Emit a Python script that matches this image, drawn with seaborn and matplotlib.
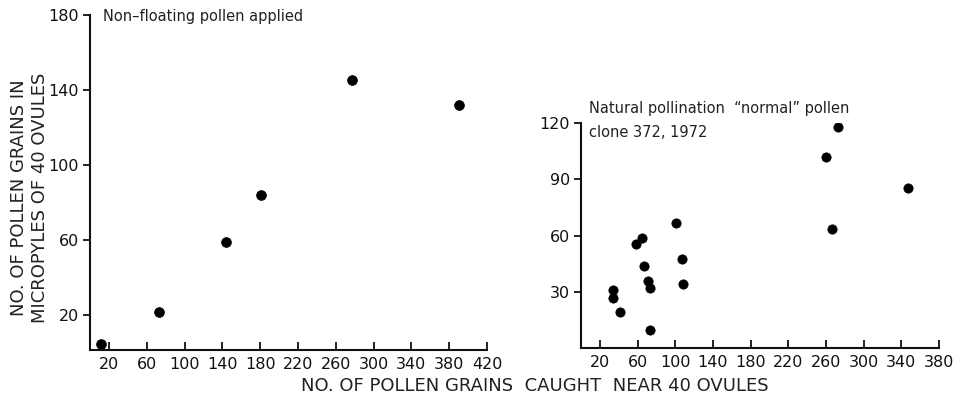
import matplotlib
matplotlib.use("Agg")
import matplotlib.pyplot as plt
import seaborn as sns
import pandas as pd

# Left panel: non-floating pollen applied
left_x = [12, 73, 144, 181, 277, 390]
left_y = [4.5, 21.8, 59.1, 84.2, 145.2, 131.8]

# Right panel: natural pollination, "normal" pollen, clone 372, 1972
right_x = [273, 260, 347, 101, 266, 65, 58, 67, 107, 71, 73, 108, 34, 34, 41, 73]
right_y = [117.7, 102, 85.4, 66.9, 63.6, 58.9, 55.4, 43.7, 47.6, 36, 32.1, 34.4, 30.7, 26.8, 19.3, 9.7]

left_xticks = [20, 60, 100, 140, 180, 220, 260, 300, 340, 380, 420]
left_yticks = [20, 60, 100, 140, 180]
right_xticks = [20, 60, 100, 140, 180, 220, 260, 300, 340, 380]
right_yticks = [30, 60, 90, 120]

sns.set_style("ticks")
plt.rcParams['font.family'] = ['DejaVu Sans']
ink = "#111111"
txt = "#222222"

fig = plt.figure(figsize=(9.61, 3.99), dpi=100)
ax1 = fig.add_axes([90/961, 49/399, 397/961, 335/399])
ax2 = fig.add_axes([581/961, 51/399, 358/961, 225/399])

dfl = pd.DataFrame({"x": left_x, "y": left_y})
dfr = pd.DataFrame({"x": right_x, "y": right_y})
sns.scatterplot(data=dfl, x="x", y="y", ax=ax1, color="black", s=50, edgecolor="black", linewidth=0.5)
sns.scatterplot(data=dfr, x="x", y="y", ax=ax2, color="black", s=45, edgecolor="black", linewidth=0.5)

ax1.set_xlim(0, 420)
ax1.set_ylim(1.3, 180)
ax2.set_xlim(0, 380)
ax2.set_ylim(0, 120)

for ax, xt, yt in [(ax1, left_xticks, left_yticks), (ax2, right_xticks, right_yticks)]:
    ax.set_xticks(xt)
    ax.set_yticks(yt)
    ax.set_xlabel("")
    ax.set_ylabel("")
    for s in ["top", "right"]:
        ax.spines[s].set_visible(False)
    for s in ["left", "bottom"]:
        ax.spines[s].set_linewidth(1.5)
        ax.spines[s].set_color(ink)
    ax.tick_params(axis="x", direction="in", length=6, width=1.3, colors=ink, labelsize=11.5, pad=5)
    ax.tick_params(axis="y", direction="out", length=5, width=1.3, colors=ink, labelsize=11.5, pad=3)
    ax.patch.set_alpha(0)

ax1.set_ylabel("NO. OF POLLEN GRAINS IN\nMICROPYLES OF 40 OVULES", fontsize=13, color=txt, linespacing=1.2)
ax1.yaxis.set_label_coords(-0.104, 0.455)

fig.text(535/961, 1 - 386/399, "NO. OF POLLEN GRAINS  CAUGHT  NEAR 40 OVULES", ha="center", va="center",
         fontsize=13, color=txt)

ax1.text(103/961, 1 - 17/399, "Non\u2013floating pollen applied", transform=fig.transFigure,
         ha="left", va="center", fontsize=10.5, color=txt)
ax2.text(589/961, 1 - 109/399, "Natural pollination  \u201cnormal\u201d pollen", transform=fig.transFigure,
         ha="left", va="center", fontsize=10.5, color=txt)
ax2.text(589/961, 1 - 133/399, "clone 372, 1972", transform=fig.transFigure,
         ha="left", va="center", fontsize=10.5, color=txt)

fig.savefig("out.png", dpi=100)
